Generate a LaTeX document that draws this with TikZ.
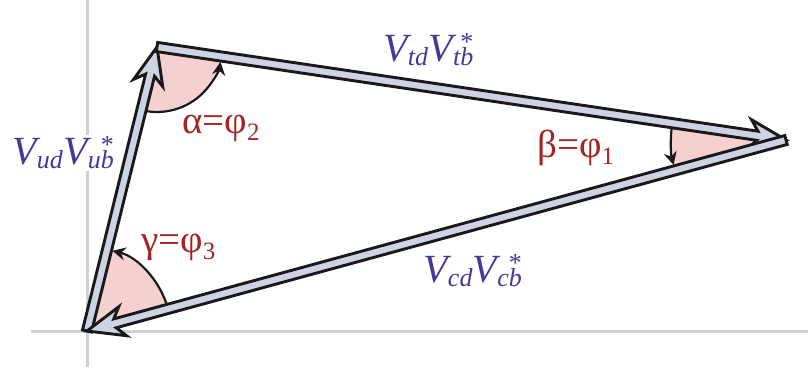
\documentclass[tikz,border=0pt]{standalone}
\usepackage{fontspec}
\setmainfont{Liberation Serif}
\usetikzlibrary{arrows.meta, calc, angles}
\definecolor{BF}{RGB}{205,211,226}
\definecolor{PK}{RGB}{246,208,208}
\definecolor{AX}{RGB}{205,208,215}
\definecolor{VB}{RGB}{70,56,150}
\definecolor{AR}{RGB}{163,38,38}
\definecolor{DG}{RGB}{25,25,25}
\newcommand{\ckm}[1]{\textit{V}\kern-3.5pt\raisebox{-4pt}{\fontsize{26}{26}\selectfont\textit{#1}}}
\newcommand{\cst}{\llap{\raisebox{11pt}{\fontsize{26}{26}\selectfont *}}}
\newcommand{\phisub}[1]{\raisebox{-7pt}{\fontsize{25}{25}\selectfont #1}}

\begin{document}
\begin{tikzpicture}[x=1pt, y=1pt,
  axline/.style={draw=AX, line width=3pt},
  fat/.style={draw=DG, fill=BF, line width=2.9pt, line join=miter,
    to path={($(\tikztostart)!4.6pt!90:(\tikztotarget)$)
      -- ($(\tikztotarget)!29pt!(\tikztostart)!4.6pt!-90:(\tikztostart)$)
      -- ($(\tikztotarget)!37pt!(\tikztostart)!15pt!-90:(\tikztostart)$)
      -- (\tikztotarget)
      -- ($(\tikztotarget)!37pt!(\tikztostart)!15pt!90:(\tikztostart)$)
      -- ($(\tikztotarget)!29pt!(\tikztostart)!4.6pt!90:(\tikztostart)$)
      -- ($(\tikztostart)!4.6pt!-90:(\tikztotarget)$) -- cycle}},
  ang/.style={draw=DG, fill=PK, line width=2.2pt,
    -{Stealth[length=13pt, width=13pt]}, shorten >=5.5pt},
  vlab/.style={text=VB, inner sep=2pt, anchor=base west,
    font=\fontsize{40}{42}\selectfont},
  alab/.style={text=AR, inner sep=0pt, anchor=base west,
    font=\fontsize{39}{41}\selectfont}
]
\useasboundingbox (0,0) rectangle (808,-374);

\draw[axline] (87,0) -- (87,-367);
\draw[axline] (31,-331) -- (808,-331);

\coordinate (A) at (87,-331);
\coordinate (B) at (157,-47);
\coordinate (C) at (786,-140);

\pic[ang, angle radius=65pt]  {angle=A--B--C};
\pic[ang, angle radius=115pt] {angle=B--C--A};
\pic[ang, angle radius=84pt]  {angle=C--A--B};

\draw[fat] (A) to (B);
\draw[fat] (B) to (C);
\draw[fat] (C) to (A);

\node[vlab, fill=white] (vud) at (10,-165) {\ckm{ud}\ckm{ub}\cst};
\node[vlab] (vtd) at (381,-62)  {\ckm{td}\ckm{tb}\cst};
\node[vlab] (vcd) at (421,-282) {\ckm{cd}\ckm{cb}\cst};
\node[alab] (alpha) at (182,-134) {α=φ\phisub{2}};
\node[alab] (beta)  at (537,-158) {β=φ\phisub{1}};
\node[alab] (gamma) at (141,-252) {γ=φ\phisub{3}};
\end{tikzpicture}
\end{document}
